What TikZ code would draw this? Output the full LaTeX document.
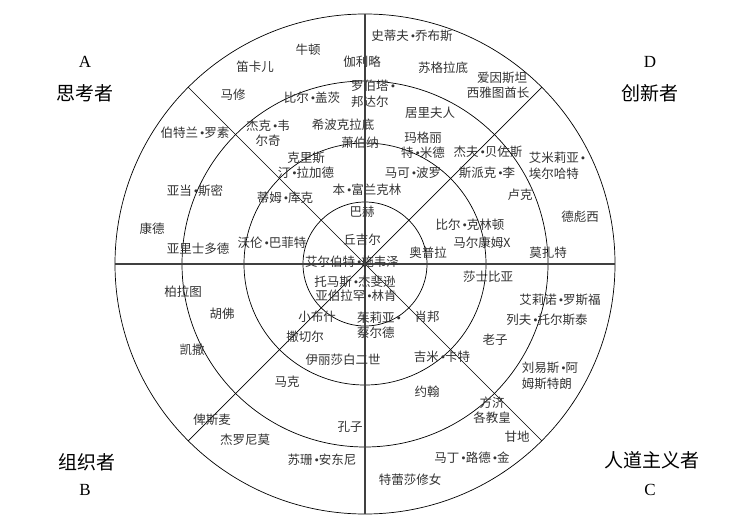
\documentclass[tikz,border=0pt]{standalone}
\usepackage{fontspec}
\setmainfont{Liberation Serif}
\newfontfamily\cjk{Noto Sans CJK SC}
\newcommand{\mdot}{{\rmfamily\,•}}
\usepackage{tikz}
\usetikzlibrary{positioning}

\begin{document}
\begin{tikzpicture}[x=1pt,y=-1pt,
    ring/.style={draw,line width=0.7pt},
    axis/.style={draw,line width=1.4pt,black!75},
    ray/.style={draw,line width=0.7pt},
    who/.style={font=\cjk\fontsize{12.5}{15.5}\selectfont,align=center,inner sep=1pt,text=black!80},
    role/.style={font=\cjk\fontsize{19}{22}\selectfont,inner sep=1pt},
    tag/.style={font=\fontsize{17}{20}\selectfont,inner sep=1pt}
  ]
    \useasboundingbox (0,0) rectangle (733,524);
    \coordinate (o) at (365,264);
    \foreach \r in {62,121,183,250} \draw[ring] (o) circle[radius=\r pt];
    \foreach \a in {45,135,225,315} \draw[ray] (o) -- ([shift={(\a:250pt)}]o);
    \draw[axis] ([shift={(180:250pt)}]o) -- ([shift={(0:250pt)}]o);
    \draw[axis] ([shift={(90:250pt)}]o) -- ([shift={(270:250pt)}]o);

    \node[tag]  (ta) at (85,62)  {A};
    \node[role] (ra) at (85,93)  {思考者};
    \node[tag]  (td) at (650,62) {D};
    \node[role] (rd) at (650,93) {创新者};
    \node[role] (rb) at (87,462) {组织者};
    \node[tag]  (tb) at (85,490) {B};
    \node[role] (rc) at (652,460) {人道主义者};
    \node[tag]  (tc) at (650,490) {C};

    \node[who] (newton)    at (308,50)  {牛顿};
    \node[who] (descartes) at (255,67)  {笛卡儿};
    \node[who] (galileo)   at (362,62)  {伽利略};
    \node[who] (matthew)   at (233,95)  {马修};
    \node[who] (russell)   at (195,133) {伯特兰\mdot 罗素};
    \node[who] (gates)     at (312,98)  {比尔\mdot 盖茨};
    \node[who] (welch)     at (268,133) {杰克\mdot 韦\\尔奇};
    \node[who] (hippo)     at (343,125) {希波克拉底};
    \node[who] (shaw)      at (360,143) {萧伯纳};
    \node[who] (lagarde)   at (306,165) {克里斯\\汀\mdot 拉加德};
    \node[who] (smith)     at (195,191) {亚当\mdot 斯密};
    \node[who] (cook)      at (285,198) {蒂姆\mdot 库克};
    \node[who] (franklin)  at (367,190) {本\mdot 富兰克林};
    \node[who] (bach)      at (362,212) {巴赫};
    \node[who] (kant)      at (152,229) {康德};
    \node[who] (buffett)   at (272,243) {沃伦\mdot 巴菲特};
    \node[who] (churchill) at (362,240) {丘吉尔};
    \node[who] (aristotle) at (198,249) {亚里士多德};

    \node[who] (jobs)      at (412,36)  {史蒂夫\mdot 乔布斯};
    \node[who] (socrates)  at (443,68)  {苏格拉底};
    \node[who,align=left,anchor=west] (bondar) at (350,94) {罗伯塔\mdot\\邦达尔};
    \node[who] (einstein)  at (502,78)  {爱因斯坦};
    \node[who] (seattle)   at (498,93)  {西雅图酋长};
    \node[who] (curie)     at (430,113) {居里夫人};
    \node[who] (mead)      at (423,145) {玛格丽\\特\mdot 米德};
    \node[who] (bezos)     at (488,152) {杰夫\mdot 贝佐斯};
    \node[who,align=left]  (earhart) at (557,166) {艾米莉亚\mdot\\埃尔哈特};
    \node[who] (polo)      at (413,173) {马可\mdot 波罗};
    \node[who] (lee)       at (487,173) {斯派克\mdot 李};
    \node[who] (luke)      at (520,195) {卢克};
    \node[who] (debussy)   at (580,217) {德彪西};
    \node[who] (clinton)   at (470,225) {比尔\mdot 克林顿};
    \node[who] (malcolm)   at (482,243) {马尔康姆X};
    \node[who] (oprah)     at (428,253) {奥普拉};
    \node[who] (mozart)    at (548,253) {莫扎特};

    \node[who] (schweitzer)  at (352,262) {艾尔伯特\mdot 施韦泽};
    \node[who] (jefferson)   at (355,282) {托马斯\mdot 杰斐逊};
    \node[who] (lincoln)     at (356,296) {亚伯拉罕\mdot 林肯};
    \node[who] (shakespeare) at (488,277) {莎士比亚};
    \node[who] (roosevelt)   at (560,300) {艾莉诺\mdot 罗斯福};
    \node[who] (tolstoy)     at (547,320) {列夫\mdot 托尔斯泰};
    \node[who,align=left] (child) at (379,325) {茱莉亚\mdot\\蔡尔德};
    \node[who] (chopin)      at (427,317) {肖邦};
    \node[who] (laozi)       at (495,340) {老子};
    \node[who] (carter)      at (442,357) {吉米\mdot 卡特};
    \node[who] (elizabeth)   at (343,360) {伊丽莎白二世};
    \node[who,align=left] (armstrong) at (550,376) {刘易斯\mdot 阿\\姆斯特朗};
    \node[who] (plato)       at (183,292) {柏拉图};
    \node[who] (hoover)      at (222,314) {胡佛};
    \node[who] (bush)        at (317,317) {小布什};
    \node[who] (thatcher)    at (305,337) {撒切尔};
    \node[who] (caesar)      at (192,350) {凯撒};
    \node[who] (mark)        at (287,382) {马克};
    \node[who] (bismarck)    at (212,420) {俾斯麦};
    \node[who] (confucius)   at (350,427) {孔子};
    \node[who] (geronimo)    at (245,440) {杰罗尼莫};
    \node[who] (anthony)     at (322,460) {苏珊\mdot 安东尼};
    \node[who] (john)        at (427,392) {约翰};
    \node[who] (francis)     at (492,410) {方济\\各教皇};
    \node[who] (gandhi)      at (517,437) {甘地};
    \node[who] (king)        at (472,458) {马丁\mdot 路德\mdot 金};
    \node[who] (teresa)      at (410,480) {特蕾莎修女};
  \end{tikzpicture}
\end{document}
